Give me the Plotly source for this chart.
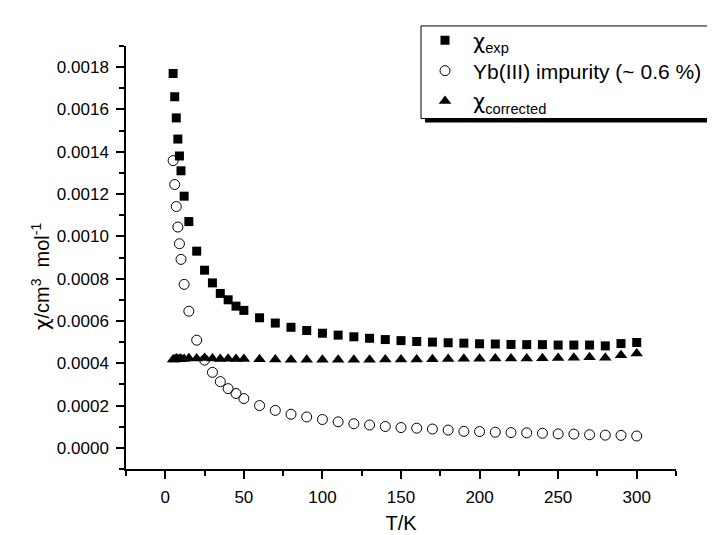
import plotly.graph_objects as go

# temperatures (K)
temp = [5, 6, 7, 8, 9, 10, 12, 15, 20, 25, 30, 35, 40, 45, 50, 60, 70, 80, 90, 100,
        110, 120, 130, 140, 150, 160, 170, 180, 190, 200, 210, 220, 230, 240, 250,
        260, 270, 280, 290, 300]

chi_exp = [0.00177, 0.00166, 0.00156, 0.00146, 0.00138, 0.00131, 0.00119, 0.00107,
           0.00093, 0.00084, 0.00078, 0.00073, 0.00070, 0.00067, 0.00065, 0.000615,
           0.00059, 0.00057, 0.000555, 0.000542, 0.000533, 0.000525, 0.000518,
           0.000512, 0.000507, 0.000503, 0.0005, 0.000497, 0.000495, 0.000492,
           0.000491, 0.000489, 0.000488, 0.000488, 0.000486, 0.000486, 0.000486,
           0.000482, 0.000493, 0.000498]

chi_yb = [0.001358, 0.001245, 0.001141, 0.001044, 0.000965, 0.000891, 0.000773,
          0.000646, 0.000509, 0.000415, 0.000357, 0.000313, 0.00028, 0.000257,
          0.000233, 0.0002, 0.000177, 0.000159, 0.000146, 0.000134, 0.000123,
          0.000114, 0.000108, 0.000101, 0.000096, 0.000093, 0.000089, 0.000084,
          0.000078, 0.000077, 0.000074, 0.000072, 0.000071, 0.000069, 0.000066,
          0.000065, 0.000062, 0.00006, 0.000059, 0.000056]

chi_corr = [0.000418, 0.000418, 0.000422, 0.00042, 0.000419, 0.000421, 0.00042,
            0.000424, 0.000423, 0.000425, 0.000423, 0.00042, 0.000421, 0.00042,
            0.00042, 0.000419, 0.000418, 0.000417, 0.000416, 0.000416, 0.000417,
            0.000417, 0.000417, 0.000418, 0.000418, 0.000418, 0.000419, 0.00042,
            0.000421, 0.000421, 0.000422, 0.000422, 0.000422, 0.000424, 0.000425,
            0.000426, 0.000428, 0.000426, 0.000438, 0.000446]

FONT = "Liberation Sans, Arial, sans-serif"
CHI = "<span style=\"font-family:'DejaVu Sans'\">χ</span>"

fig = go.Figure()

fig.add_trace(go.Scatter(
    x=temp, y=chi_exp, mode="markers", name=CHI + "<sub>exp</sub>",
    marker=dict(symbol="square", size=9, color="black")
))

fig.add_trace(go.Scatter(
    x=temp, y=chi_yb, mode="markers", name="Yb(III) impurity (~ 0.6 %)",
    marker=dict(symbol="circle-open", size=10, color="black", line=dict(width=1))
))

fig.add_trace(go.Scatter(
    x=temp, y=chi_corr, mode="markers", name=CHI + "<sub>corrected</sub>",
    marker=dict(symbol="triangle-up", size=11, color="black")
))

# plot area in pixels; helpers convert pixels to paper coords
L, R, T, B = 118, 668, 27, 470


def px_x(p):
    return (p - L) / (R - L)


def px_y(p):
    return (B - p) / (B - T)


# legend frame with drop shadow
fig.add_shape(type="rect", xref="paper", yref="paper",
              x0=px_x(417), x1=px_x(716), y0=px_y(107), y1=px_y(10),
              fillcolor="black", line=dict(width=0), layer="above")
fig.add_shape(type="rect", xref="paper", yref="paper",
              x0=px_x(413), x1=px_x(712), y0=px_y(103), y1=px_y(6),
              fillcolor="white", line=dict(color="black", width=1), layer="above")

# y title sits a little below the axis centre, as in the original
fig.add_annotation(
    x=px_x(33), y=px_y(268), xref="paper", yref="paper",
    text=CHI + "/cm<sup>3</sup>  mol<sup>-1</sup>",
    textangle=-90, showarrow=False,
    font=dict(size=20), xanchor="center", yanchor="middle"
)

fig.update_layout(
    width=715,
    height=535,
    margin=dict(l=L, r=715 - R, t=T, b=535 - B),
    paper_bgcolor="white",
    plot_bgcolor="white",
    font=dict(family=FONT, size=17, color="black"),
    showlegend=True,
    legend=dict(
        x=px_x(409), xanchor="left",
        y=px_y(0), yanchor="top",
        bgcolor="rgba(0,0,0,0)",
        borderwidth=0,
        font=dict(family=FONT, size=21, color="black"),
        itemwidth=46,
        tracegroupgap=0
    )
)

fig.update_xaxes(
    range=[-25, 325],
    tick0=0, dtick=50,
    ticks="outside", ticklen=8, tickwidth=1.5, tickcolor="black",
    minor=dict(dtick=25, ticks="outside", ticklen=5, tickwidth=1.5, tickcolor="black"),
    showline=True, linecolor="black", linewidth=1.5,
    showgrid=False, zeroline=False,
    tickfont=dict(size=17),
    ticklabelstandoff=4,
    title=dict(text="T/K", font=dict(size=20), standoff=10)
)

fig.update_yaxes(
    range=[-0.0001, 0.0019],
    tick0=0, dtick=0.0002, tickformat=".4f",
    ticks="outside", ticklen=8, tickwidth=1.5, tickcolor="black",
    minor=dict(dtick=0.0001, ticks="outside", ticklen=5, tickwidth=1.5, tickcolor="black"),
    showline=True, linecolor="black", linewidth=1.5,
    showgrid=False, zeroline=False,
    tickfont=dict(size=17),
    ticklabelstandoff=4
)

fig.write_html("out.html")
